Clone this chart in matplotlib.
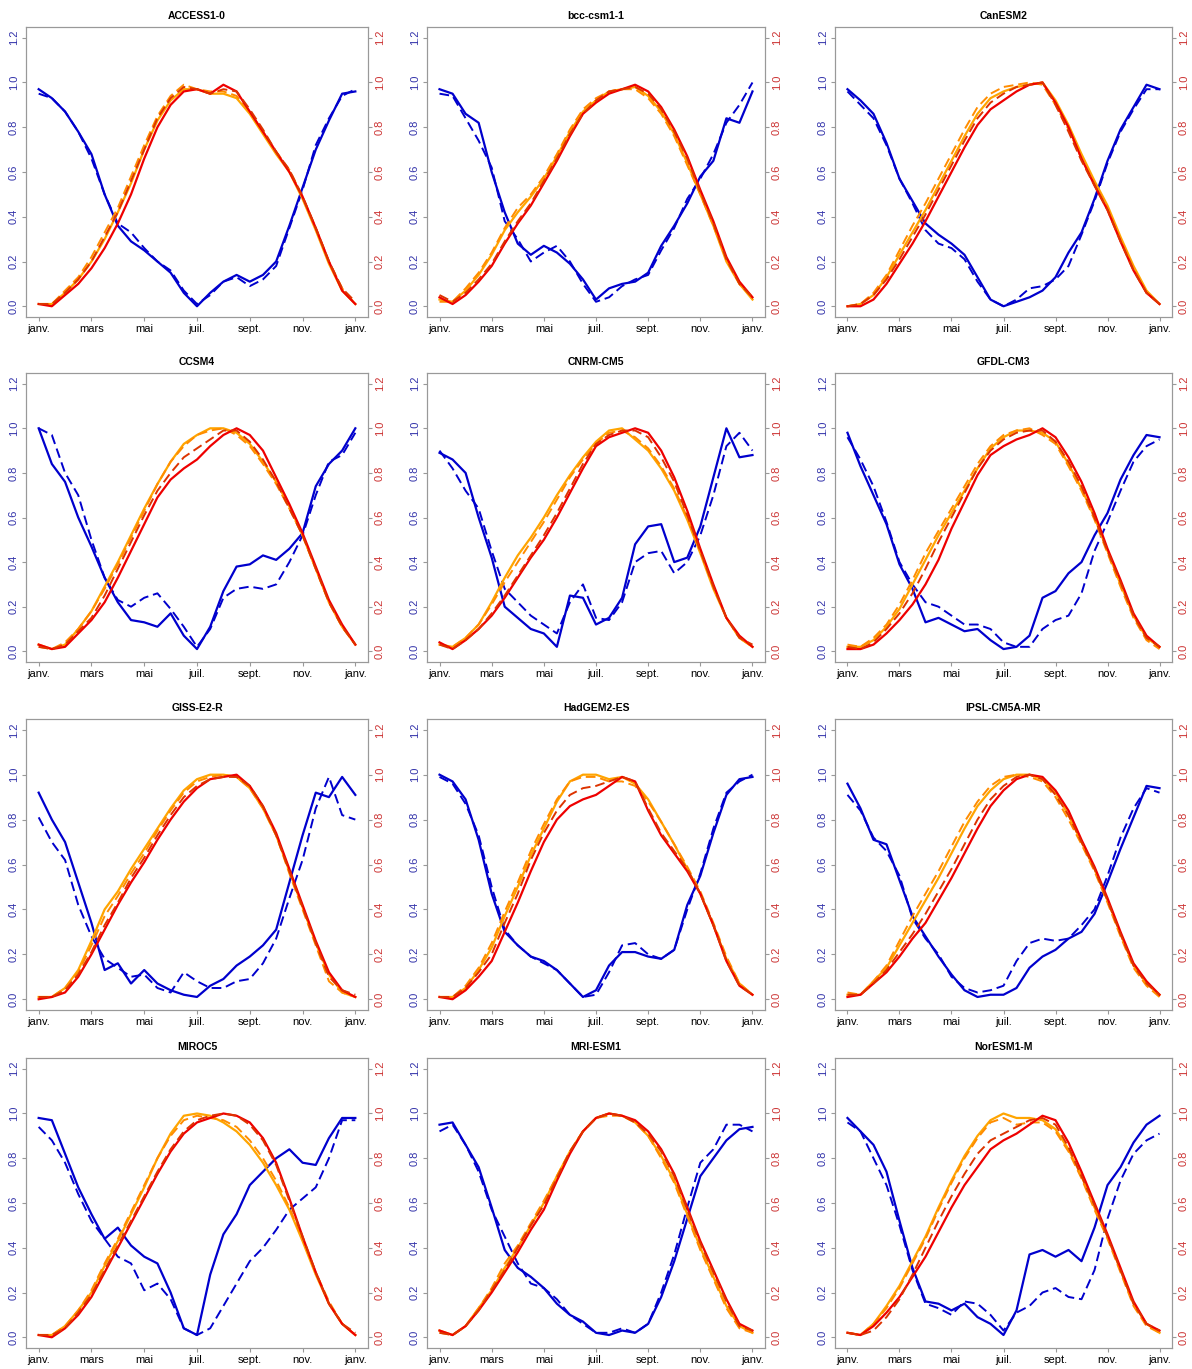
import numpy as np
import matplotlib
matplotlib.use("Agg")
import matplotlib.pyplot as plt

plt.rcParams['font.family'] = ['Liberation Sans Narrow', 'Liberation Sans', 'DejaVu Sans']

models = ["ACCESS1-0", "bcc-csm1-1", "CanESM2",
          "CCSM4", "CNRM-CM5", "GFDL-CM3",
          "GISS-E2-R", "HadGEM2-ES", "IPSL-CM5A-MR",
          "MIROC5", "MRI-ESM1", "NorESM1-M"]

# position in months (jan=0 ... next jan=12), one value every half month
months = np.arange(25) * 0.5
month_ticks = [0, 2, 4, 6, 8, 10, 12]
month_labels = ["janv.", "mars", "mai", "juil.", "sept.", "nov.", "janv."]
y_ticks = [0.0, 0.2, 0.4, 0.6, 0.8, 1.0, 1.2]

blue_solid = [
    [0.97, 0.93, 0.87, 0.78, 0.68, 0.50, 0.36, 0.29, 0.25, 0.20, 0.15, 0.06, 0.00, 0.06, 0.11, 0.14, 0.11, 0.14, 0.20, 0.36, 0.53, 0.70, 0.83, 0.95, 0.96],
    [0.97, 0.95, 0.86, 0.82, 0.60, 0.42, 0.28, 0.23, 0.27, 0.24, 0.19, 0.12, 0.03, 0.08, 0.10, 0.11, 0.15, 0.27, 0.36, 0.46, 0.58, 0.65, 0.84, 0.82, 0.96],
    [0.97, 0.92, 0.86, 0.73, 0.57, 0.47, 0.37, 0.32, 0.28, 0.23, 0.13, 0.03, 0.00, 0.02, 0.04, 0.07, 0.13, 0.24, 0.33, 0.48, 0.65, 0.79, 0.89, 0.99, 0.97],
    [1.00, 0.84, 0.76, 0.60, 0.47, 0.33, 0.22, 0.14, 0.13, 0.11, 0.17, 0.07, 0.01, 0.11, 0.27, 0.38, 0.39, 0.43, 0.41, 0.46, 0.53, 0.74, 0.84, 0.90, 1.00],
    [0.89, 0.86, 0.80, 0.60, 0.42, 0.20, 0.15, 0.10, 0.08, 0.02, 0.25, 0.24, 0.12, 0.15, 0.24, 0.48, 0.56, 0.57, 0.40, 0.42, 0.56, 0.78, 1.00, 0.87, 0.88],
    [0.98, 0.83, 0.70, 0.57, 0.39, 0.28, 0.13, 0.15, 0.12, 0.09, 0.10, 0.05, 0.01, 0.02, 0.07, 0.24, 0.27, 0.35, 0.40, 0.52, 0.62, 0.77, 0.88, 0.97, 0.96],
    [0.92, 0.80, 0.70, 0.52, 0.34, 0.13, 0.16, 0.07, 0.13, 0.07, 0.04, 0.02, 0.01, 0.06, 0.09, 0.15, 0.19, 0.24, 0.31, 0.52, 0.73, 0.92, 0.90, 0.99, 0.91],
    [1.00, 0.97, 0.89, 0.71, 0.47, 0.30, 0.24, 0.19, 0.17, 0.13, 0.07, 0.01, 0.04, 0.15, 0.21, 0.21, 0.19, 0.18, 0.22, 0.42, 0.55, 0.74, 0.91, 0.98, 0.99],
    [0.96, 0.85, 0.71, 0.69, 0.53, 0.37, 0.28, 0.19, 0.11, 0.04, 0.01, 0.02, 0.02, 0.05, 0.14, 0.19, 0.22, 0.27, 0.30, 0.38, 0.52, 0.67, 0.81, 0.95, 0.94],
    [0.98, 0.97, 0.82, 0.67, 0.55, 0.44, 0.49, 0.41, 0.36, 0.33, 0.20, 0.04, 0.01, 0.28, 0.46, 0.55, 0.68, 0.74, 0.80, 0.84, 0.78, 0.77, 0.89, 0.98, 0.98],
    [0.95, 0.96, 0.86, 0.76, 0.58, 0.39, 0.31, 0.27, 0.22, 0.15, 0.10, 0.07, 0.02, 0.01, 0.03, 0.02, 0.06, 0.18, 0.34, 0.53, 0.72, 0.80, 0.88, 0.93, 0.94],
    [0.98, 0.92, 0.86, 0.74, 0.52, 0.31, 0.16, 0.15, 0.12, 0.15, 0.09, 0.06, 0.01, 0.12, 0.37, 0.39, 0.36, 0.39, 0.34, 0.49, 0.68, 0.76, 0.87, 0.95, 0.99],
]

blue_dashed = [
    [0.95, 0.93, 0.87, 0.78, 0.66, 0.50, 0.37, 0.33, 0.26, 0.20, 0.16, 0.07, 0.01, 0.05, 0.11, 0.13, 0.09, 0.12, 0.18, 0.35, 0.52, 0.72, 0.84, 0.94, 0.97],
    [0.95, 0.94, 0.84, 0.74, 0.62, 0.38, 0.30, 0.20, 0.24, 0.27, 0.20, 0.10, 0.02, 0.04, 0.09, 0.12, 0.14, 0.25, 0.35, 0.48, 0.57, 0.68, 0.82, 0.90, 1.00],
    [0.96, 0.90, 0.84, 0.72, 0.57, 0.46, 0.34, 0.28, 0.26, 0.21, 0.11, 0.03, 0.00, 0.03, 0.08, 0.09, 0.12, 0.18, 0.32, 0.47, 0.64, 0.78, 0.88, 0.97, 0.97],
    [1.00, 0.97, 0.80, 0.70, 0.50, 0.33, 0.23, 0.20, 0.24, 0.26, 0.19, 0.11, 0.02, 0.10, 0.24, 0.28, 0.29, 0.28, 0.30, 0.40, 0.52, 0.70, 0.85, 0.88, 0.98],
    [0.90, 0.82, 0.72, 0.64, 0.45, 0.28, 0.22, 0.16, 0.12, 0.08, 0.22, 0.30, 0.15, 0.14, 0.22, 0.40, 0.44, 0.45, 0.35, 0.40, 0.52, 0.70, 0.92, 0.98, 0.90],
    [0.96, 0.86, 0.74, 0.58, 0.40, 0.30, 0.22, 0.20, 0.16, 0.12, 0.12, 0.10, 0.04, 0.02, 0.02, 0.10, 0.14, 0.16, 0.26, 0.45, 0.58, 0.72, 0.85, 0.92, 0.95],
    [0.81, 0.70, 0.62, 0.42, 0.28, 0.18, 0.14, 0.10, 0.11, 0.05, 0.03, 0.12, 0.08, 0.05, 0.05, 0.08, 0.09, 0.16, 0.27, 0.45, 0.62, 0.85, 0.99, 0.82, 0.80],
    [0.99, 0.96, 0.87, 0.73, 0.50, 0.31, 0.24, 0.19, 0.16, 0.13, 0.07, 0.01, 0.02, 0.12, 0.24, 0.25, 0.20, 0.18, 0.22, 0.40, 0.56, 0.76, 0.92, 0.97, 1.00],
    [0.91, 0.84, 0.72, 0.66, 0.55, 0.36, 0.27, 0.20, 0.10, 0.05, 0.03, 0.04, 0.06, 0.17, 0.25, 0.27, 0.26, 0.27, 0.33, 0.40, 0.55, 0.72, 0.85, 0.94, 0.92],
    [0.94, 0.88, 0.78, 0.64, 0.52, 0.44, 0.36, 0.33, 0.21, 0.24, 0.17, 0.04, 0.01, 0.04, 0.14, 0.24, 0.34, 0.40, 0.48, 0.57, 0.62, 0.67, 0.80, 0.97, 0.97],
    [0.92, 0.95, 0.86, 0.74, 0.57, 0.45, 0.33, 0.24, 0.22, 0.17, 0.10, 0.06, 0.02, 0.02, 0.04, 0.02, 0.06, 0.20, 0.37, 0.58, 0.78, 0.84, 0.95, 0.95, 0.92],
    [0.96, 0.92, 0.80, 0.68, 0.50, 0.30, 0.15, 0.13, 0.10, 0.16, 0.15, 0.10, 0.03, 0.11, 0.14, 0.20, 0.22, 0.18, 0.17, 0.30, 0.53, 0.70, 0.82, 0.88, 0.91],
]

orange_solid = [
    [0.01, 0.01, 0.06, 0.12, 0.20, 0.30, 0.42, 0.55, 0.70, 0.83, 0.92, 0.97, 0.97, 0.95, 0.95, 0.93, 0.86, 0.77, 0.68, 0.60, 0.48, 0.34, 0.19, 0.07, 0.01],
    [0.03, 0.02, 0.07, 0.14, 0.23, 0.34, 0.42, 0.49, 0.57, 0.67, 0.78, 0.87, 0.92, 0.96, 0.97, 0.98, 0.94, 0.87, 0.77, 0.64, 0.50, 0.36, 0.20, 0.10, 0.03],
    [0.00, 0.01, 0.05, 0.13, 0.23, 0.33, 0.43, 0.54, 0.65, 0.76, 0.86, 0.93, 0.96, 0.98, 0.99, 1.00, 0.92, 0.81, 0.68, 0.56, 0.45, 0.31, 0.18, 0.07, 0.01],
    [0.03, 0.01, 0.03, 0.10, 0.18, 0.29, 0.40, 0.52, 0.64, 0.75, 0.85, 0.93, 0.97, 1.00, 1.00, 0.98, 0.93, 0.85, 0.76, 0.65, 0.52, 0.37, 0.22, 0.11, 0.03],
    [0.03, 0.02, 0.06, 0.12, 0.22, 0.33, 0.43, 0.51, 0.60, 0.70, 0.79, 0.87, 0.94, 0.99, 1.00, 0.95, 0.90, 0.82, 0.72, 0.59, 0.44, 0.28, 0.15, 0.06, 0.02],
    [0.02, 0.02, 0.05, 0.11, 0.19, 0.30, 0.41, 0.52, 0.62, 0.72, 0.82, 0.91, 0.96, 0.99, 0.99, 0.98, 0.94, 0.84, 0.73, 0.60, 0.45, 0.30, 0.16, 0.06, 0.02],
    [0.01, 0.01, 0.05, 0.13, 0.26, 0.40, 0.48, 0.58, 0.67, 0.76, 0.85, 0.93, 0.98, 1.00, 1.00, 0.99, 0.94, 0.85, 0.73, 0.57, 0.41, 0.25, 0.11, 0.03, 0.01],
    [0.01, 0.01, 0.05, 0.13, 0.23, 0.37, 0.50, 0.64, 0.76, 0.88, 0.97, 1.00, 1.00, 0.98, 0.99, 0.96, 0.89, 0.79, 0.69, 0.58, 0.47, 0.33, 0.18, 0.07, 0.02],
    [0.02, 0.02, 0.08, 0.14, 0.24, 0.34, 0.44, 0.54, 0.65, 0.76, 0.86, 0.93, 0.98, 1.00, 1.00, 0.98, 0.92, 0.82, 0.70, 0.58, 0.44, 0.29, 0.15, 0.07, 0.02],
    [0.01, 0.01, 0.05, 0.12, 0.20, 0.32, 0.43, 0.55, 0.67, 0.80, 0.91, 0.99, 1.00, 0.99, 0.96, 0.92, 0.86, 0.78, 0.68, 0.57, 0.43, 0.28, 0.15, 0.06, 0.01],
    [0.03, 0.01, 0.05, 0.13, 0.21, 0.31, 0.40, 0.50, 0.60, 0.72, 0.83, 0.92, 0.98, 1.00, 0.99, 0.96, 0.90, 0.81, 0.70, 0.55, 0.40, 0.27, 0.14, 0.05, 0.02],
    [0.02, 0.01, 0.06, 0.14, 0.23, 0.34, 0.45, 0.58, 0.70, 0.81, 0.90, 0.97, 1.00, 0.98, 0.98, 0.97, 0.93, 0.84, 0.72, 0.58, 0.45, 0.30, 0.15, 0.06, 0.02],
]

orange_dashed = [
    [0.01, 0.01, 0.07, 0.13, 0.22, 0.33, 0.44, 0.58, 0.72, 0.85, 0.94, 0.99, 0.97, 0.96, 0.96, 0.94, 0.87, 0.78, 0.69, 0.61, 0.49, 0.35, 0.20, 0.08, 0.01],
    [0.02, 0.02, 0.08, 0.15, 0.24, 0.35, 0.44, 0.50, 0.58, 0.68, 0.79, 0.88, 0.93, 0.96, 0.97, 0.97, 0.93, 0.86, 0.76, 0.63, 0.50, 0.36, 0.21, 0.10, 0.04],
    [0.00, 0.01, 0.06, 0.14, 0.25, 0.36, 0.46, 0.57, 0.68, 0.79, 0.89, 0.95, 0.98, 0.99, 1.00, 0.99, 0.90, 0.79, 0.66, 0.55, 0.44, 0.30, 0.17, 0.06, 0.01],
    [0.02, 0.01, 0.04, 0.10, 0.18, 0.28, 0.39, 0.51, 0.63, 0.75, 0.85, 0.92, 0.97, 0.99, 1.00, 0.97, 0.92, 0.84, 0.75, 0.64, 0.52, 0.37, 0.22, 0.11, 0.03],
    [0.03, 0.02, 0.06, 0.12, 0.21, 0.31, 0.40, 0.49, 0.58, 0.68, 0.78, 0.86, 0.93, 0.98, 0.99, 0.96, 0.91, 0.83, 0.73, 0.60, 0.45, 0.29, 0.15, 0.06, 0.02],
    [0.03, 0.02, 0.06, 0.12, 0.21, 0.32, 0.44, 0.54, 0.64, 0.74, 0.84, 0.92, 0.97, 0.99, 1.00, 0.97, 0.93, 0.83, 0.72, 0.59, 0.44, 0.29, 0.15, 0.05, 0.01],
    [0.01, 0.01, 0.05, 0.12, 0.24, 0.37, 0.46, 0.56, 0.65, 0.75, 0.84, 0.92, 0.97, 0.99, 1.00, 0.99, 0.94, 0.85, 0.73, 0.56, 0.40, 0.24, 0.08, 0.03, 0.01],
    [0.01, 0.01, 0.06, 0.14, 0.25, 0.39, 0.52, 0.66, 0.78, 0.89, 0.97, 0.99, 0.99, 0.97, 0.97, 0.95, 0.88, 0.79, 0.69, 0.59, 0.48, 0.34, 0.19, 0.07, 0.02],
    [0.03, 0.02, 0.08, 0.15, 0.26, 0.37, 0.47, 0.57, 0.68, 0.79, 0.88, 0.95, 0.99, 1.00, 0.99, 0.97, 0.90, 0.80, 0.69, 0.57, 0.43, 0.28, 0.14, 0.06, 0.01],
    [0.01, 0.01, 0.05, 0.12, 0.21, 0.33, 0.44, 0.56, 0.68, 0.80, 0.90, 0.97, 0.99, 0.98, 0.97, 0.94, 0.88, 0.80, 0.70, 0.58, 0.44, 0.29, 0.16, 0.06, 0.01],
    [0.02, 0.01, 0.05, 0.13, 0.22, 0.33, 0.41, 0.51, 0.61, 0.72, 0.83, 0.92, 0.98, 0.99, 0.99, 0.96, 0.90, 0.80, 0.69, 0.54, 0.39, 0.26, 0.13, 0.04, 0.02],
    [0.02, 0.01, 0.06, 0.13, 0.22, 0.33, 0.44, 0.57, 0.69, 0.80, 0.89, 0.96, 0.98, 0.95, 0.96, 0.96, 0.92, 0.83, 0.71, 0.57, 0.44, 0.29, 0.14, 0.05, 0.02],
]

red_solid = [
    [0.01, 0.00, 0.05, 0.10, 0.17, 0.26, 0.37, 0.50, 0.66, 0.80, 0.90, 0.96, 0.97, 0.95, 0.99, 0.96, 0.87, 0.78, 0.69, 0.60, 0.49, 0.35, 0.20, 0.07, 0.01],
    [0.04, 0.01, 0.05, 0.11, 0.18, 0.28, 0.37, 0.45, 0.55, 0.65, 0.76, 0.86, 0.91, 0.95, 0.97, 0.99, 0.96, 0.89, 0.79, 0.67, 0.52, 0.38, 0.22, 0.11, 0.04],
    [0.00, 0.00, 0.03, 0.10, 0.19, 0.28, 0.38, 0.49, 0.60, 0.71, 0.81, 0.88, 0.92, 0.96, 0.99, 1.00, 0.91, 0.80, 0.66, 0.54, 0.43, 0.29, 0.16, 0.06, 0.01],
    [0.03, 0.01, 0.02, 0.08, 0.14, 0.22, 0.33, 0.45, 0.57, 0.69, 0.77, 0.82, 0.86, 0.92, 0.97, 1.00, 0.97, 0.90, 0.78, 0.66, 0.53, 0.38, 0.23, 0.12, 0.03],
    [0.04, 0.01, 0.05, 0.10, 0.16, 0.24, 0.33, 0.42, 0.50, 0.60, 0.71, 0.82, 0.92, 0.96, 0.98, 1.00, 0.98, 0.90, 0.78, 0.63, 0.46, 0.30, 0.15, 0.07, 0.02],
    [0.01, 0.01, 0.03, 0.08, 0.14, 0.21, 0.30, 0.41, 0.55, 0.67, 0.79, 0.88, 0.92, 0.95, 0.97, 1.00, 0.96, 0.87, 0.76, 0.62, 0.46, 0.32, 0.17, 0.07, 0.02],
    [0.00, 0.01, 0.03, 0.10, 0.20, 0.31, 0.42, 0.52, 0.61, 0.71, 0.80, 0.88, 0.94, 0.98, 0.99, 1.00, 0.95, 0.86, 0.74, 0.58, 0.42, 0.26, 0.12, 0.04, 0.01],
    [0.01, 0.00, 0.04, 0.10, 0.17, 0.30, 0.43, 0.57, 0.70, 0.80, 0.86, 0.89, 0.91, 0.95, 0.99, 0.97, 0.84, 0.73, 0.65, 0.57, 0.47, 0.33, 0.17, 0.06, 0.02],
    [0.01, 0.02, 0.07, 0.12, 0.19, 0.27, 0.34, 0.44, 0.54, 0.65, 0.76, 0.86, 0.93, 0.98, 1.00, 0.99, 0.93, 0.84, 0.71, 0.59, 0.45, 0.30, 0.16, 0.08, 0.02],
    [0.01, 0.00, 0.04, 0.10, 0.18, 0.29, 0.40, 0.51, 0.62, 0.73, 0.83, 0.91, 0.96, 0.98, 1.00, 0.99, 0.96, 0.89, 0.78, 0.62, 0.45, 0.29, 0.15, 0.06, 0.01],
    [0.03, 0.01, 0.05, 0.12, 0.20, 0.29, 0.38, 0.48, 0.57, 0.70, 0.82, 0.92, 0.98, 1.00, 0.99, 0.97, 0.92, 0.84, 0.73, 0.58, 0.43, 0.30, 0.17, 0.06, 0.03],
    [0.02, 0.01, 0.05, 0.11, 0.18, 0.27, 0.36, 0.47, 0.58, 0.68, 0.76, 0.84, 0.88, 0.91, 0.95, 0.99, 0.97, 0.87, 0.74, 0.60, 0.46, 0.31, 0.16, 0.06, 0.03],
]

red_dashed = [
    [0.01, 0.01, 0.06, 0.12, 0.20, 0.31, 0.42, 0.56, 0.70, 0.84, 0.93, 0.98, 0.97, 0.95, 0.97, 0.96, 0.88, 0.79, 0.69, 0.61, 0.49, 0.35, 0.20, 0.08, 0.02],
    [0.05, 0.02, 0.06, 0.12, 0.19, 0.29, 0.38, 0.46, 0.56, 0.66, 0.77, 0.86, 0.92, 0.96, 0.97, 0.98, 0.95, 0.88, 0.78, 0.66, 0.51, 0.37, 0.21, 0.10, 0.04],
    [0.00, 0.01, 0.05, 0.12, 0.21, 0.31, 0.41, 0.52, 0.63, 0.74, 0.84, 0.91, 0.95, 0.98, 0.99, 1.00, 0.90, 0.78, 0.65, 0.54, 0.43, 0.29, 0.16, 0.06, 0.01],
    [0.02, 0.01, 0.03, 0.09, 0.15, 0.25, 0.37, 0.49, 0.61, 0.72, 0.80, 0.87, 0.91, 0.95, 0.99, 0.99, 0.94, 0.86, 0.76, 0.64, 0.52, 0.37, 0.22, 0.11, 0.03],
    [0.03, 0.01, 0.05, 0.10, 0.17, 0.25, 0.34, 0.43, 0.52, 0.62, 0.73, 0.84, 0.93, 0.97, 0.99, 0.99, 0.96, 0.87, 0.76, 0.61, 0.45, 0.29, 0.15, 0.06, 0.03],
    [0.02, 0.01, 0.04, 0.10, 0.17, 0.26, 0.37, 0.49, 0.60, 0.71, 0.82, 0.90, 0.95, 0.98, 0.99, 0.99, 0.94, 0.85, 0.74, 0.60, 0.45, 0.31, 0.16, 0.06, 0.02],
    [0.01, 0.01, 0.04, 0.11, 0.21, 0.33, 0.43, 0.54, 0.63, 0.73, 0.82, 0.90, 0.95, 0.98, 0.99, 0.99, 0.95, 0.86, 0.73, 0.57, 0.41, 0.25, 0.10, 0.04, 0.02],
    [0.01, 0.01, 0.05, 0.12, 0.20, 0.34, 0.47, 0.62, 0.74, 0.84, 0.91, 0.94, 0.95, 0.97, 0.99, 0.97, 0.85, 0.74, 0.66, 0.58, 0.47, 0.33, 0.17, 0.06, 0.02],
    [0.02, 0.02, 0.07, 0.13, 0.21, 0.29, 0.38, 0.48, 0.58, 0.69, 0.80, 0.89, 0.95, 0.99, 1.00, 0.98, 0.91, 0.82, 0.70, 0.58, 0.44, 0.29, 0.15, 0.07, 0.02],
    [0.01, 0.01, 0.04, 0.11, 0.19, 0.30, 0.41, 0.52, 0.63, 0.74, 0.84, 0.92, 0.97, 0.99, 1.00, 0.99, 0.95, 0.88, 0.77, 0.61, 0.45, 0.29, 0.15, 0.06, 0.02],
    [0.02, 0.01, 0.05, 0.12, 0.21, 0.30, 0.40, 0.50, 0.59, 0.71, 0.83, 0.92, 0.98, 1.00, 0.99, 0.96, 0.91, 0.83, 0.72, 0.57, 0.42, 0.29, 0.16, 0.05, 0.03],
    [0.02, 0.01, 0.03, 0.09, 0.17, 0.28, 0.40, 0.52, 0.63, 0.73, 0.82, 0.88, 0.91, 0.94, 0.97, 0.98, 0.95, 0.85, 0.72, 0.59, 0.45, 0.30, 0.15, 0.06, 0.03],
]

BLUE = "#0000CD"
ORANGE = "#FFA500"
ORANGE2 = "#FF8C00"
RED = "#EE0000"
RED2 = "#DD3300"

W, H = 1192, 1369
fig = plt.figure(figsize=(W / 100, H / 100), dpi=100)

col_left = [26, 427, 835]
col_width = [342, 338, 337]
row_top = [27, 373, 719, 1058]
row_height = [290, 289, 291, 290]

for i, name in enumerate(models):
    r, c = divmod(i, 3)
    rect = [col_left[c] / W, 1 - (row_top[r] + row_height[r]) / H,
            col_width[c] / W, row_height[r] / H]
    ax = fig.add_axes(rect)

    ax.plot(months, blue_solid[i], color=BLUE, lw=1.6)
    ax.plot(months, blue_dashed[i], color=BLUE, lw=1.4, dashes=(5, 2.5))

    ax2 = ax.twinx()
    ax2.plot(months, orange_solid[i], color=ORANGE, lw=1.6)
    ax2.plot(months, orange_dashed[i], color=ORANGE2, lw=1.4, dashes=(5, 2.5))
    ax2.plot(months, red_solid[i], color=RED, lw=1.6)
    ax2.plot(months, red_dashed[i], color=RED2, lw=1.4, dashes=(5, 2.5))

    for a in (ax, ax2):
        a.set_xlim(-0.48, 12.48)
        a.set_ylim(-0.048, 1.248)
        a.set_yticks(y_ticks)
        a.set_yticklabels(["%.1f" % v for v in y_ticks])
        for s in a.spines.values():
            s.set_color("#999999")
            s.set_linewidth(0.8)

    ax.set_xticks(month_ticks)
    ax.set_xticklabels(month_labels, fontsize=8)
    ax.tick_params(axis="x", length=3, pad=2, color="#999999")
    ax.tick_params(axis="y", length=3, pad=2, color="#999999",
                   labelcolor="#3333AA", labelsize=8)
    for lab in ax.get_yticklabels():
        lab.set_rotation(90)
        lab.set_va("center")
    ax2.tick_params(axis="y", length=3, pad=2, color="#999999",
                    labelcolor="#CC3333", labelsize=8)
    for lab in ax2.get_yticklabels():
        lab.set_rotation(90)
        lab.set_va("center")

    ax.set_title(name, fontsize=7.5, fontweight="bold", pad=6)

fig.savefig("out.png", dpi=100)
